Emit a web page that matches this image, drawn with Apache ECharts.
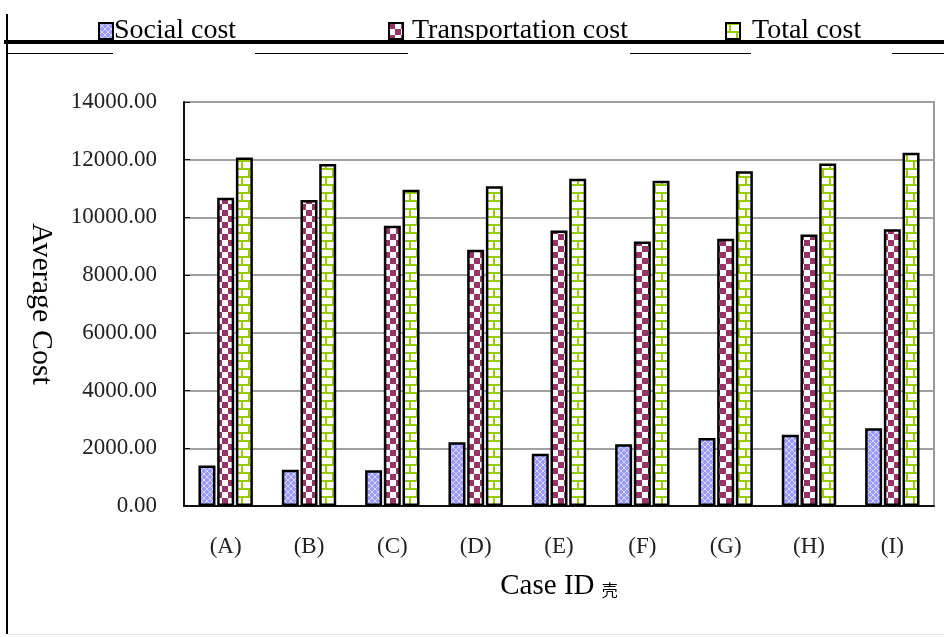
<!DOCTYPE html>
<html>
<head>
<meta charset="utf-8">
<script src="https://cdn.jsdelivr.net/npm/echarts@6/dist/echarts.min.js"></script>
<style>
  html, body { margin: 0; padding: 0; background: #fff; }
  #chart { width: 944px; height: 637px; }
</style>
</head>
<body>
<div id="chart"></div>
<script>
// Average cost per case
const categories = ['(A)', '(B)', '(C)', '(D)', '(E)', '(F)', '(G)', '(H)', '(I)'];
const socialCost = [1400, 1260, 1240, 2210, 1810, 2140, 2360, 2470, 2690];
const transportationCost = [10680, 10600, 9710, 8880, 9550, 9170, 9260, 9410, 9590];
const totalCost = [12080, 11850, 10960, 11080, 11340, 11270, 11600, 11870, 12240];
const yTicks = [0, 2000, 4000, 6000, 8000, 10000, 12000, 14000];

const SERIF = '"Liberation Serif", "DejaVu Serif", serif';

// Fill patterns for the three series
function makeTile(w, h, draw) {
  const c = document.createElement('canvas');
  c.width = w; c.height = h;
  draw(c.getContext('2d'));
  return c;
}
const latticeTile = makeTile(6, 6, g => {
  g.fillStyle = '#9b9bff';
  g.fillRect(0, 0, 6, 6);
  g.fillStyle = 'rgba(255,255,255,0.6)';
  for (let i = 0; i < 6; i++) {
    g.fillRect(i, i, 1, 1);
    g.fillRect(5 - i, i, 1, 1);
  }
});
const checkerTile = makeTile(12, 12, g => {
  g.fillStyle = '#ffffff';
  g.fillRect(0, 0, 12, 12);
  g.fillStyle = '#993366';
  g.fillRect(0, 0, 6, 6);
  g.fillRect(6, 6, 6, 6);
});
const brickTile = makeTile(14, 16, g => {
  g.fillStyle = '#ffffff';
  g.fillRect(0, 0, 14, 16);
  g.fillStyle = '#99cc00';
  g.fillRect(0, 0, 14, 2);
  g.fillRect(0, 8, 14, 2);
  g.fillRect(3, 0, 2, 8);
  g.fillRect(10, 8, 2, 8);
});

const pat = tile => ({ image: tile, repeat: 'repeat' });

const barStyle = fill => ({
  color: pat(fill),
  borderColor: '#000',
  borderWidth: 2.5
});

const chart = echarts.init(document.getElementById('chart'), null, { renderer: 'canvas' });

const legendText = pad => ({ fontFamily: SERIF, fontSize: 28, color: '#000', padding: [0, 0, 0, pad] });
const legendBase = {
  top: 12,
  itemWidth: 14,
  itemHeight: 16,
  icon: 'rect'
};

chart.setOption({
  animation: false,
  backgroundColor: '#fff',
  legend: [
    Object.assign({}, legendBase, { data: ['Social cost'], left: 93, textStyle: legendText(-4) }),
    Object.assign({}, legendBase, { data: ['Transportation cost'], left: 383, textStyle: legendText(4) }),
    Object.assign({}, legendBase, { data: ['Total cost'], left: 720, textStyle: legendText(7) })
  ],
  grid: { left: 184, right: 10, top: 102, bottom: 131, containLabel: false },
  xAxis: {
    type: 'category',
    data: categories,
    axisLine: { lineStyle: { color: '#111', width: 2 } },
    axisTick: { inside: true, length: 8, lineStyle: { color: '#111', width: 1 } },
    axisLabel: { fontFamily: SERIF, fontSize: 23, color: '#222', margin: 29 },
    name: '{a|Case ID }{b|壳}',
    nameLocation: 'middle',
    nameGap: 66,
    nameTextStyle: {
      rich: {
        a: { fontFamily: SERIF, fontSize: 29, color: '#000' },
        b: { fontFamily: '"Noto Sans CJK SC", sans-serif', fontSize: 16, color: '#000', padding: [6, 0, 0, 0] }
      }
    }
  },
  yAxis: [
    {
      type: 'value',
      min: yTicks[0],
      max: yTicks[yTicks.length - 1],
      interval: yTicks[1] - yTicks[0],
      axisLine: { show: true, lineStyle: { color: '#111', width: 2 } },
      axisTick: { show: true, inside: true, length: 6, lineStyle: { color: '#111' } },
      axisLabel: {
        fontFamily: SERIF, fontSize: 23, color: '#222', margin: 27,
        formatter: v => v.toFixed(2)
      },
      splitLine: { lineStyle: { color: '#808080', width: 1.5 } },
      name: 'Average Cost',
      nameLocation: 'middle',
      nameRotate: -90,
      nameGap: 128,
      nameTextStyle: { fontFamily: SERIF, fontSize: 30, color: '#000' }
    },
    {
      type: 'value',
      position: 'right',
      min: yTicks[0],
      max: yTicks[yTicks.length - 1],
      interval: yTicks[1] - yTicks[0],
      axisLine: { show: true, lineStyle: { color: '#999', width: 2 } },
      axisTick: { show: false },
      axisLabel: { show: false },
      splitLine: { show: false }
    }
  ],
  series: [
    {
      name: 'Social cost', type: 'bar', data: socialCost,
      barWidth: 17, barGap: '10%',
      itemStyle: barStyle(latticeTile)
    },
    {
      name: 'Transportation cost', type: 'bar', data: transportationCost,
      barWidth: 17, barGap: '10%',
      itemStyle: barStyle(checkerTile)
    },
    {
      name: 'Total cost', type: 'bar', data: totalCost,
      barWidth: 17, barGap: '10%',
      itemStyle: barStyle(brickTile)
    }
  ],
  graphic: [
    // outer frame
    { type: 'line', shape: { x1: 7, y1: 14, x2: 7, y2: 634 }, style: { stroke: '#000', lineWidth: 2 } },
    { type: 'line', shape: { x1: 4, y1: 42, x2: 944, y2: 42 }, style: { stroke: '#000', lineWidth: 4 } },
    { type: 'line', shape: { x1: 8, y1: 634.5, x2: 944, y2: 634.5 }, style: { stroke: '#e4e4e4', lineWidth: 1 } },
    { type: 'line', shape: { x1: 8, y1: 53.5, x2: 113, y2: 53.5 }, style: { stroke: '#000', lineWidth: 1 } },
    { type: 'line', shape: { x1: 255, y1: 53.5, x2: 408, y2: 53.5 }, style: { stroke: '#000', lineWidth: 1 } },
    { type: 'line', shape: { x1: 630, y1: 53.5, x2: 751, y2: 53.5 }, style: { stroke: '#000', lineWidth: 1 } },
    { type: 'line', shape: { x1: 892, y1: 53.5, x2: 944, y2: 53.5 }, style: { stroke: '#000', lineWidth: 1 } }
  ]
});
</script>
</body>
</html>
